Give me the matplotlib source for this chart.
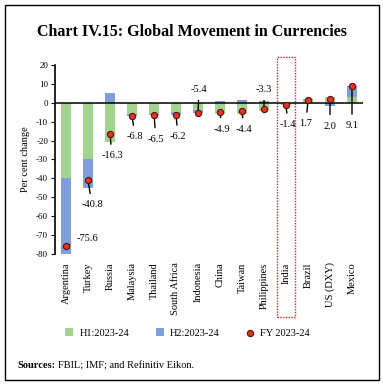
import matplotlib.pyplot as plt
import matplotlib.patches as patches
import matplotlib.transforms as mtransforms
import numpy as np

plt.rcParams['font.family'] = ['Liberation Serif', 'DejaVu Serif']
plt.rcParams['axes.unicode_minus'] = False

# data
countries = ['Argentina', 'Turkey', 'Russia', 'Malaysia', 'Thailand', 'South Africa',
             'Indonesia', 'China', 'Taiwan', 'Philippines', 'India', 'Brazil',
             'US (DXY)', 'Mexico']
h1 = [-40.0, -30.0, -21.0, -6.0, -6.0, -5.0, -4.0, -6.0, -6.0, -4.3, -1.0, 1.5, 3.0, 3.0]
h2 = [-40.0, -15.0, 5.0, -0.8, -0.5, -1.2, -1.4, 1.1, 1.5, 1.0, -0.4, 0.3, -1.5, 6.0]
fy = [-75.6, -40.8, -16.3, -6.8, -6.5, -6.2, -5.4, -4.9, -4.4, -3.3, -1.4, 1.7, 2.0, 9.1]
fy_labels = ['-75.6', '-40.8', '-16.3', '-6.8', '-6.5', '-6.2', '-5.4', '-4.9', '-4.4',
             '-3.3', '-1.4', '1.7', '2.0', '9.1']
# label offsets in pixels (dx, dy)
offsets = [(21, 7), (4, -25), (2, -22), (3, -21), (2, -24), (2, -22), (1, 24), (2, -17),
           (2, -18), (0, 20), (2, -19), (-2, -24), (0, -27), (0, -40)]

green = '#a3d48f'
blue = '#7f9fdc'
red = '#e8321e'

fig = plt.figure(figsize=(3.83, 3.87), dpi=100)
ax = fig.add_axes([55/383, 1-254/387, 308/383, 189/387])

x = np.arange(len(countries))
h1 = np.array(h1)
h2 = np.array(h2)
bottom2 = np.where(np.sign(h1) == np.sign(h2), h1, 0)
b1 = ax.bar(x, h1, width=0.48, color=green, label='H1:2023-24', zorder=2)
b2 = ax.bar(x, h2, width=0.48, bottom=bottom2, color=blue, label='H2:2023-24', zorder=2)
sc = ax.scatter(x, fy, s=20, color=red, edgecolor='#5a1010', linewidth=0.8, zorder=4,
                label='FY 2023-24')

for i in range(len(x)):
    ax.annotate(fy_labels[i], (x[i], fy[i]), xytext=offsets[i], textcoords='offset pixels',
                ha='center', va='center', fontsize=7.5,
                arrowprops=dict(arrowstyle='-', color='black', lw=1.0, shrinkA=3, shrinkB=0),
                zorder=3)

ax.axhline(0, color='black', lw=1.1, zorder=3)
ax.set_xlim(-0.5, len(countries) - 0.5)
ax.set_ylim(-80, 20)
ax.set_yticks(np.arange(-80, 21, 10))
ax.tick_params(axis='y', labelsize=6.5, length=3, width=0.8, pad=2)
ax.set_xticks(x)
ax.set_xticklabels(countries, rotation=90, fontsize=7.5)
ax.tick_params(axis='x', length=0, pad=6)
for s in ['top', 'right', 'bottom']:
    ax.spines[s].set_visible(False)
ax.spines['left'].set_linewidth(1.2)
ax.set_ylabel('Per cent change', fontsize=7.5, labelpad=4)

# India highlight
trans = mtransforms.blended_transform_factory(ax.transData, fig.transFigure)
ax.add_patch(patches.Rectangle((10 - 0.43, 1-317/387), 0.86, (317-57)/387, transform=trans,
                               fill=False, edgecolor='#e02020', lw=1.0, ls=(0, (1, 1)),
                               clip_on=False))

fig.legend([b1, b2, sc], ['H1:2023-24', 'H2:2023-24', 'FY 2023-24'], loc='center',
           bbox_to_anchor=(0.49, 1-333/387), ncol=3, frameon=False,
           fontsize=7.5, handlelength=0.8, handleheight=0.8, columnspacing=2.5,
           handletextpad=0.6, markerscale=1)

fig.text(0.5, 1-32/387, 'Chart IV.15: Global Movement in Currencies', ha='center',
         va='center', fontsize=11.5, fontweight='bold')
t = fig.text(17/383, 1-366/387, 'Sources:', fontsize=7.5, fontweight='bold', va='center')
fig.canvas.draw()
bb = t.get_window_extent()
fig.text((bb.x1 + 3)/383, 1-366/387, 'FBIL; IMF; and Refinitiv Eikon.', fontsize=7.5,
         va='center')

fig.add_artist(patches.Rectangle((5/383, 1-380/387), 374/383, 375/387,
                                 transform=fig.transFigure, fill=False,
                                 edgecolor='black', lw=1.0))

fig.savefig('out.png', dpi=100)
